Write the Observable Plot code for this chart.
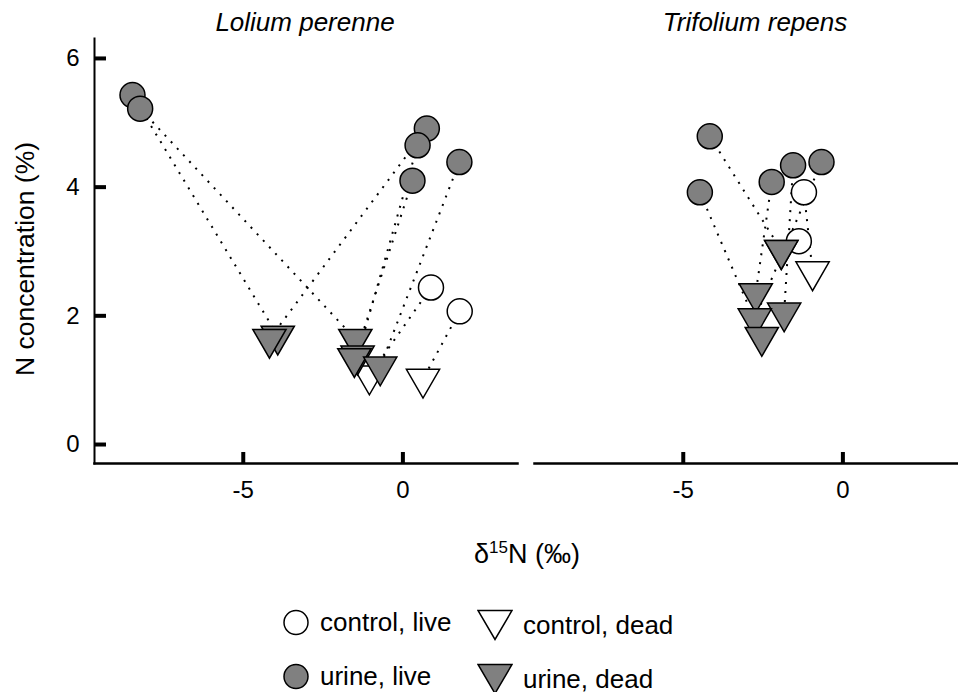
<!DOCTYPE html>
<html><head><meta charset="utf-8">
<script src="https://cdn.jsdelivr.net/npm/d3@7"></script>
<script src="https://cdn.jsdelivr.net/npm/@observablehq/plot@0.6"></script>
<style>
body{margin:0;background:#fff;font-family:"Liberation Sans",Arial,sans-serif;}
#wrap{position:relative;width:958px;height:692px;overflow:hidden;background:#fff;}
.abs{position:absolute;white-space:nowrap;color:#000;line-height:1;}
.leg{position:absolute;display:flex;align-items:center;font-size:26px;white-space:nowrap;}
.leg svg{display:block;margin-right:10px;}
</style></head><body>
<div id="wrap">
  <div id="chart" class="abs" style="left:0;top:0"></div>
  <div class="abs" id="t1" style="left:305px;top:9px;transform:translateX(-50%);font-style:italic;font-size:26px"></div>
  <div class="abs" id="t2" style="left:755px;top:9px;transform:translateX(-50%);font-style:italic;font-size:26px"></div>
  <div class="abs" style="left:25px;top:259px;transform:translate(-50%,-50%) rotate(-90deg);font-size:26.5px">N concentration (%)</div>
  <div class="abs" style="left:527px;top:539px;transform:translateX(-50%);font-size:27px">δ<sup style="font-size:17px;vertical-align:10px">15</sup>N (‰)</div>
  <div id="legend"></div>
</div>
<script>
// ---- data ----
const speciesNames = ["Lolium perenne", "Trifolium repens"];
const pairSpecies = [
  "Lolium perenne","Lolium perenne",
  "Lolium perenne","Lolium perenne","Lolium perenne","Lolium perenne","Lolium perenne","Lolium perenne",
  "Trifolium repens","Trifolium repens",
  "Trifolium repens","Trifolium repens","Trifolium repens","Trifolium repens","Trifolium repens"
];
const pairTreatment = [
  "control","control",
  "urine","urine","urine","urine","urine","urine",
  "control","control",
  "urine","urine","urine","urine","urine"
];
// live plants: d15N (‰) and N concentration (%)
const liveD15N = [0.88, 1.78, -8.47, -8.23, 0.75, 0.46, 0.30, 1.77, -1.22, -1.38, -4.17, -2.23, -1.56, -0.67, -4.48];
const liveN    = [2.44, 2.07, 5.43, 5.22, 4.91, 4.65, 4.10, 4.39, 3.92, 3.16, 4.79, 4.08, 4.34, 4.39, 3.92];
// dead plants
const deadD15N = [-1.05, 0.63, -3.92, -1.49, -4.18, -1.42, -1.52, -0.71, -0.95, -1.93, -1.93, -2.73, -1.84, -2.76, -2.54];
const deadN    = [1.07, 1.02, 1.69, 1.64, 1.64, 1.38, 1.34, 1.21, 2.69, 3.02, 3.02, 2.35, 2.05, 1.96, 1.67];

const xTicks = [-5, 0];
const yTicks = [0, 2, 4, 6];
const legendLabels = ["control, live", "control, dead", "urine, live", "urine, dead"];

// ---- build rows ----
const rows = pairSpecies.map((s, i) => ({
  species: s, treatment: pairTreatment[i],
  liveX: liveD15N[i], liveY: liveN[i], deadX: deadD15N[i], deadY: deadN[i]
}));
const ctrl = rows.filter(d => d.treatment === "control");
const urine = rows.filter(d => d.treatment === "urine");

const GRAY = "#808080";
const triDown = {
  draw(ctx, size) {
    const r = Math.sqrt(size / Math.PI);
    const a = r * 1.33, h = a * Math.sqrt(3);
    ctx.moveTo(-a, -h / 3); ctx.lineTo(a, -h / 3); ctx.lineTo(0, 2 * h / 3); ctx.closePath();
  }
};
const dotOpts = {fx: "species", r: 12.5, stroke: "black", strokeWidth: 1.5};

const plot = Plot.plot({
  width: 958, height: 520,
  marginLeft: 93, marginRight: 0, marginTop: 38, marginBottom: 57,
  style: {fontFamily: "'Liberation Sans', Arial, sans-serif", fontSize: "24px", color: "black", background: "white"},
  fx: {domain: speciesNames, axis: null, padding: 0.0385},
  x: {domain: [-9.66, 3.59]},
  y: {domain: [-0.295, 6.31]},
  marks: [
    Plot.frame({anchor: "bottom", strokeWidth: 2.5}),
    Plot.frame({anchor: "left", facetAnchor: "left", strokeWidth: 2}),
    Plot.axisX({ticks: xTicks, tickSize: -11, tickPadding: 28, strokeWidth: 4, fontSize: 24, tickFormat: d => String(d), label: null}),
    Plot.axisY({ticks: yTicks, tickSize: -12, tickPadding: 27, strokeWidth: 4, fontSize: 24, tickFormat: d => String(d), label: null}),
    Plot.link(rows, {x1: "liveX", y1: "liveY", x2: "deadX", y2: "deadY", fx: "species",
      stroke: "black", strokeWidth: 2, strokeDasharray: "2,7"}),
    Plot.dot(ctrl, {...dotOpts, x: "liveX", y: "liveY", fill: "white"}),
    Plot.dot(urine, {...dotOpts, x: "liveX", y: "liveY", fill: GRAY}),
    Plot.dot(ctrl, {...dotOpts, x: "deadX", y: "deadY", fill: "white", symbol: triDown}),
    Plot.dot(urine, {...dotOpts, x: "deadX", y: "deadY", fill: GRAY, symbol: triDown})
  ]
});
document.getElementById("chart").appendChild(plot);
document.getElementById("t1").textContent = speciesNames[0];
document.getElementById("t2").textContent = speciesNames[1];

// ---- legend ----
const circ = fill => `<svg width="28" height="28"><circle cx="14" cy="14" r="12" fill="${fill}" stroke="black" stroke-width="1.5"/></svg>`;
const tri = fill => `<svg width="36" height="32"><path d="M1,1.5L35,1.5L18,30.5Z" fill="${fill}" stroke="black" stroke-width="1.5"/></svg>`;
const legItems = [
  {x: 282, y: 622, sym: circ("white"), label: legendLabels[0]},
  {x: 477, y: 625, sym: tri("white"), label: legendLabels[1]},
  {x: 282, y: 676, sym: circ(GRAY), label: legendLabels[2]},
  {x: 477, y: 679, sym: tri(GRAY), label: legendLabels[3]}
];
const leg = document.getElementById("legend");
legItems.forEach(it => {
  const d = document.createElement("div");
  d.className = "leg";
  d.style.left = it.x + "px";
  d.style.top = it.y + "px";
  d.style.transform = "translateY(-50%)";
  d.innerHTML = it.sym + `<span>${it.label}</span>`;
  leg.appendChild(d);
});
</script>
</body></html>
